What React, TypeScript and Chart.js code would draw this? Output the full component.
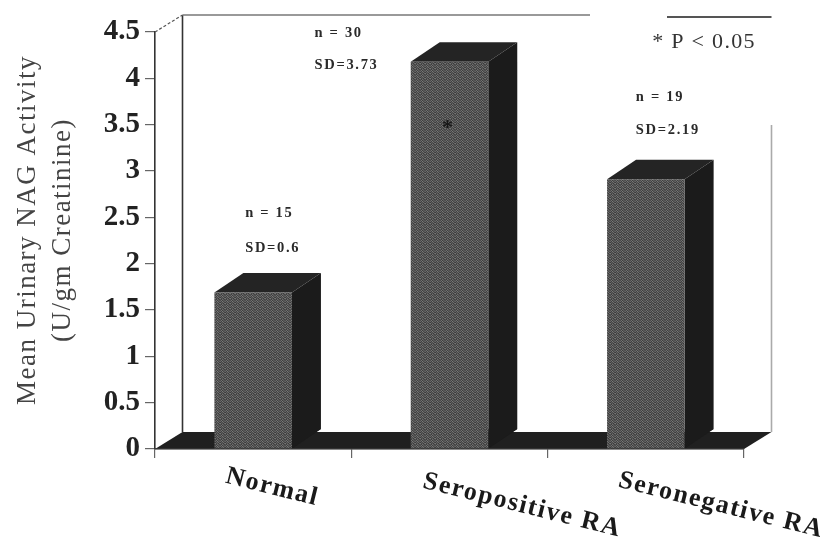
import React, { useEffect, useRef } from "react";
import { Chart, registerables } from "chart.js";

Chart.register(...registerables);

const categories = ["Normal", "Seropositive RA", "Seronegative RA"];
const meanActivity = [1.69, 4.18, 2.91];
const sampleNotes = ["n = 15", "n = 30", "n = 19"];
const sdNotes = ["SD=0.6", "SD=3.73", "SD=2.19"];
const yTitle = ["Mean Urinary NAG Activity", "(U/gm Creatinine)"];
const footnote = "* P < 0.05";

const SERIF = '"Liberation Serif", serif';

function grainPattern(ctx: CanvasRenderingContext2D) {
  const tile = document.createElement("canvas");
  tile.width = 5;
  tile.height = 5;
  const t = tile.getContext("2d")!;
  const shades = [
    "#4a4a4a", "#727272", "#3e3e3e", "#5c5c5c", "#505050",
    "#666666", "#404040", "#787878", "#484848", "#5a5a5a",
    "#3c3c3c", "#5e5e5e", "#4c4c4c", "#6e6e6e", "#444444",
    "#747474", "#464646", "#585858", "#3a3a3a", "#6a6a6a",
    "#525252", "#3f3f3f", "#6c6c6c", "#565656", "#424242",
  ];
  shades.forEach((c, i) => {
    t.fillStyle = c;
    t.fillRect(i % 5, Math.floor(i / 5), 1, 1);
  });
  return ctx.createPattern(tile, "repeat")!;
}

const box3d = {
  id: "box3d",
  beforeDatasetsDraw(chart: any) {
    const { ctx, chartArea: a } = chart;
    const poly = (pts: number[][], fill: string) => {
      ctx.beginPath();
      pts.forEach((p, i) => (i ? ctx.lineTo(p[0], p[1]) : ctx.moveTo(p[0], p[1])));
      ctx.closePath();
      ctx.fillStyle = fill;
      ctx.fill();
    };
    const line = (pts: number[][], color: string, w: number, dash: number[] = []) => {
      ctx.save();
      ctx.strokeStyle = color;
      ctx.lineWidth = w;
      ctx.setLineDash(dash);
      ctx.beginPath();
      pts.forEach((p, i) => (i ? ctx.lineTo(p[0], p[1]) : ctx.moveTo(p[0], p[1])));
      ctx.stroke();
      ctx.restore();
    };
    const fx = 27.5, fy = -17, wallTop = a.top - 17;
    // back wall
    line([[a.left + fx, a.bottom + fy], [a.left + fx, wallTop]], "#333", 1.6);
    line([[a.left, a.top], [a.left + fx, wallTop]], "#555", 1.2, [3, 2]);
    line([[a.left + fx, wallTop], [590, wallTop]], "#777", 1.6);
    line([[667, wallTop + 2], [a.right + fx, wallTop + 2]], "#555", 1.8);
    line([[a.right + fx, 125], [a.right + fx, a.bottom + fy]], "#aaa", 1.6);
    // floor
    poly(
      [
        [a.left, a.bottom],
        [a.right, a.bottom],
        [a.right + fx, a.bottom + fy],
        [a.left + fx, a.bottom + fy],
      ],
      "#202020"
    );
    // bar side and top faces
    const dx = 29, dy = -19.5;
    chart.getDatasetMeta(0).data.forEach((bar: any) => {
      const l = bar.x - bar.width / 2, r = bar.x + bar.width / 2;
      poly([[l, bar.y], [r, bar.y], [r + dx, bar.y + dy], [l + dx, bar.y + dy]], "#242424");
      poly([[r, bar.y], [r + dx, bar.y + dy], [r + dx, bar.base + dy], [r, bar.base]], "#1b1b1b");
      poly([[r, bar.base], [r + dx, bar.base + dy], [r, bar.base + dy]], "#1b1b1b");
    });
  },
  afterDatasetsDraw(chart: any) {
    const { ctx, chartArea: a, scales } = chart;
    const { x, y } = scales;
    ctx.save();
    // front floor edge
    ctx.strokeStyle = "#444";
    ctx.lineWidth = 1.2;
    ctx.beginPath();
    ctx.moveTo(a.left, a.bottom);
    ctx.lineTo(a.right, a.bottom);
    ctx.stroke();

    // notes above the bars
    ctx.fillStyle = "#2a2a2a";
    ctx.textAlign = "left";
    ctx.textBaseline = "middle";
    ctx.font = `bold 14.5px ${SERIF}`;
    (ctx as any).letterSpacing = "1.7px";
    const noteOffset = [-8, -135, -10];
    const nValue = [2.54, 4.49, 3.8];
    const sdValue = [2.17, 4.14, 3.44];
    categories.forEach((_, i) => {
      const cx = x.getPixelForValue(i) + noteOffset[i];
      ctx.fillText(sampleNotes[i], cx, y.getPixelForValue(nValue[i]));
      ctx.fillText(sdNotes[i], cx, y.getPixelForValue(sdValue[i]));
    });

    // significance mark on the seropositive bar
    ctx.textAlign = "center";
    (ctx as any).letterSpacing = "0px";
    ctx.font = `bold 22px ${SERIF}`;
    ctx.fillStyle = "#161616";
    ctx.fillText("*", x.getPixelForValue(1) - 2, y.getPixelForValue(3.5) + 4);

    // footnote
    ctx.font = `22px ${SERIF}`;
    (ctx as any).letterSpacing = "1.3px";
    ctx.fillStyle = "#333";
    ctx.fillText(footnote, 704, 42);

    // rotated category labels
    ctx.font = `bold 26px ${SERIF}`;
    (ctx as any).letterSpacing = "1.6px";
    ctx.fillStyle = "#1a1a1a";
    ctx.textAlign = "left";
    const labelShift = [-27, -26, -27];
    const labelDrop = [476, 481, 480];
    categories.forEach((c, i) => {
      ctx.save();
      ctx.translate(x.getPixelForValue(i) + labelShift[i], labelDrop[i]);
      ctx.rotate((14 * Math.PI) / 180);
      ctx.fillText(c, 0, 0);
      ctx.restore();
    });

    // y axis title, two lines
    ctx.font = `27px ${SERIF}`;
    (ctx as any).letterSpacing = "1.5px";
    ctx.fillStyle = "#444";
    ctx.textAlign = "center";
    const titleX = [28, 63];
    yTitle.forEach((t, i) => {
      ctx.save();
      ctx.translate(titleX[i], 230);
      ctx.rotate(-Math.PI / 2);
      ctx.fillText(t, 0, 0);
      ctx.restore();
    });
    ctx.restore();
  },
};

export default function App() {
  const ref = useRef<HTMLCanvasElement>(null);
  useEffect(() => {
    document.body.style.margin = "0";
    document.body.style.background = "#fff";
    const ctx = ref.current!.getContext("2d")!;
    const chart = new Chart(ctx, {
      type: "bar",
      data: {
        labels: categories,
        datasets: [
          {
            data: meanActivity,
            backgroundColor: grainPattern(ctx),
            borderWidth: 0,
            barPercentage: 0.395,
            categoryPercentage: 1,
          },
        ],
      },
      options: {
        responsive: false,
        animation: false,
        devicePixelRatio: 1,
        layout: { padding: { top: 32, right: 91, bottom: 0, left: 0 } },
        plugins: { legend: { display: false }, tooltip: { enabled: false } },
        scales: {
          x: {
            grid: { offset: true, drawOnChartArea: false, tickLength: 9, color: "#666", lineWidth: 1.2 },
            border: { color: "#444", width: 1.2 },
            ticks: { display: false },
            afterFit: (s: any) => {
              s.height = 94;
            },
          },
          y: {
            min: 0,
            max: 4.5,
            grid: { drawOnChartArea: false, tickLength: 10, color: "#666", lineWidth: 1.2 },
            border: { color: "#333", width: 1.6 },
            ticks: {
              stepSize: 0.5,
              padding: 5,
              color: "#222",
              font: { family: SERIF, size: 29, weight: "bold" },
              callback: (v: any) => String(v),
            },
            afterFit: (s: any) => {
              s.width = 155;
            },
          },
        },
      },
      plugins: [box3d],
    } as any);
    return () => chart.destroy();
  }, []);
  return (
    <canvas
      ref={ref}
      width={835}
      height={543}
      style={{ display: "block", width: 835, height: 543, filter: "blur(0.6px)" }}
    />
  );
}
